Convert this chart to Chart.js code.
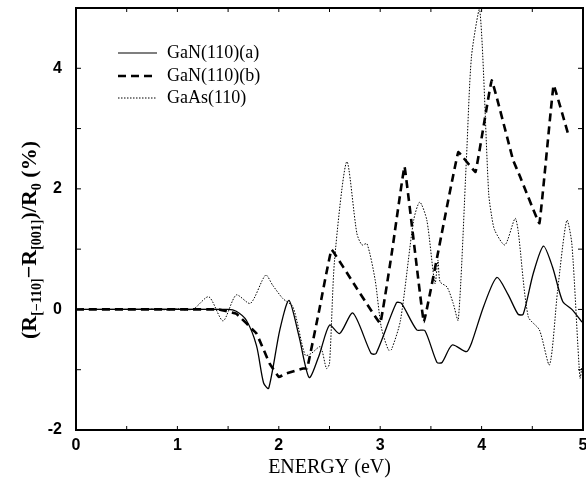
<!DOCTYPE html>
<html>
<head>
<meta charset="utf-8">
<script src="https://cdn.jsdelivr.net/npm/chart.js"></script>
<style>
  html, body { margin: 0; padding: 0; background: #fff; }
  #wrap { width: 586px; height: 480px; }
</style>
</head>
<body>
<div id="wrap"><canvas id="chart" width="586" height="480"></canvas></div>
<script>
// series labels
const seriesNames = ['GaN(110)(a)', 'GaN(110)(b)', 'GaAs(110)'];

// GaN(110)(a), solid
const energyA = [0, 1.5, 1.58, 1.68, 1.78, 1.85, 1.90, 2.01, 2.10, 2.20, 2.30, 2.40, 2.50, 2.60, 2.73, 2.91, 2.96, 3.16, 3.21, 3.36, 3.44, 3.56, 3.61, 3.71, 3.85, 3.90, 4.02, 4.15, 4.26, 4.36, 4.41, 4.51, 4.61, 4.70, 4.80, 4.89, 4.99];
const valuesA = [0, 0, -0.03, -0.18, -0.6, -1.22, -1.31, -0.34, 0.15, -0.45, -1.13, -0.75, -0.26, -0.40, -0.06, -0.73, -0.73, 0.11, 0.10, -0.34, -0.35, -0.88, -0.88, -0.59, -0.70, -0.56, 0.05, 0.53, 0.25, -0.08, -0.08, 0.60, 1.05, 0.70, 0.13, 0.0, -0.21];

// GaN(110)(b), dashed
const energyB = [0, 1.4, 1.58, 1.78, 1.91, 2.0, 2.08, 2.24, 2.28, 2.40, 2.52, 2.75, 3.0, 3.12, 3.24, 3.43, 3.60, 3.77, 3.94, 4.10, 4.31, 4.38, 4.57, 4.71, 4.86];
const valuesB = [0, 0, -0.07, -0.40, -0.90, -1.12, -1.06, -0.98, -0.98, 0.0, 0.99, 0.40, -0.23, 1.0, 2.37, -0.21, 1.2, 2.61, 2.28, 3.80, 2.48, 2.20, 1.43, 3.72, 2.87];

// GaAs(110), dotted
const energyC = [0, 0.7, 0.8, 0.9, 1.0, 1.1, 1.17, 1.31, 1.45, 1.58, 1.72, 1.87, 1.94, 2.04, 2.14, 2.26, 2.32, 2.41, 2.47, 2.50, 2.55, 2.67, 2.77, 2.82, 2.87, 2.95, 3.01, 3.08, 3.11, 3.20, 3.33, 3.39, 3.46, 3.54, 3.57, 3.59, 3.66, 3.72, 3.77, 3.85, 3.90, 3.98, 4.07, 4.10, 4.13, 4.23, 4.33, 4.36, 4.46, 4.57, 4.67, 4.75, 4.84, 4.89, 4.97, 4.99];
const valuesC = [0, 0, 0.01, -0.01, 0.01, -0.01, 0.02, 0.21, -0.19, 0.24, 0.10, 0.57, 0.40, 0.18, 0.04, -0.76, -0.73, -0.62, -0.98, -0.90, 0.82, 2.45, 1.26, 1.07, 1.09, 0.49, -0.29, -0.67, -0.67, -0.18, 1.48, 1.78, 1.48, 0.43, 0.82, 0.46, 0.37, 0.10, -0.18, 2.48, 4.19, 5.0, 1.92, 1.54, 1.31, 1.07, 1.51, 1.31, -0.12, -0.34, -0.92, 0.32, 1.48, 1.09, -1.14, -0.95];

const xTicks = [0, 1, 2, 3, 4, 5];
const yTickLabels = [-2, 0, 2, 4];

function pts(xs, ys) {
  return xs.map((x, i) => ({ x: x, y: ys[i] }));
}

const serif = '"Liberation Serif", "Times New Roman", serif';
const sans = '"Liberation Sans", Arial, sans-serif';

const framePlugin = {
  id: 'frame',
  afterDraw(chart) {
    const ctx = chart.ctx;
    const a = chart.chartArea;
    const xs = chart.scales.x, ys = chart.scales.y;
    ctx.save();
    // minor/major ticks, inward on all sides
    ctx.strokeStyle = '#000';
    ctx.lineWidth = 1;
    for (let v = 0.5; v < 5; v += 0.5) {
      const px = xs.getPixelForValue(v);
      ctx.beginPath();
      ctx.moveTo(px, a.bottom); ctx.lineTo(px, a.bottom - 4);
      ctx.moveTo(px, a.top); ctx.lineTo(px, a.top + 4);
      ctx.stroke();
    }
    for (let v = -1; v < 5; v += 1) {
      const py = ys.getPixelForValue(v);
      ctx.beginPath();
      ctx.moveTo(a.left, py); ctx.lineTo(a.left + 5, py);
      ctx.moveTo(a.right, py); ctx.lineTo(a.right - 5, py);
      ctx.stroke();
    }
    // frame
    ctx.lineWidth = 2;
    ctx.strokeRect(a.left, a.top, a.right - a.left, a.bottom - a.top);

    // legend
    const styles = [
      { w: 1.2, dash: [] },
      { w: 2.6, dash: [8, 5] },
      { w: 1, dash: [1.5, 1.5] }
    ];
    const rowsY = [53, 76, 98];
    ctx.font = '18px ' + serif;
    ctx.textBaseline = 'middle';
    ctx.fillStyle = '#000';
    seriesNames.forEach((name, i) => {
      ctx.lineWidth = styles[i].w;
      ctx.setLineDash(styles[i].dash);
      ctx.beginPath();
      ctx.moveTo(118, rowsY[i]); ctx.lineTo(157, rowsY[i]);
      ctx.stroke();
      ctx.setLineDash([]);
      ctx.fillText(name, 167, rowsY[i]);
    });

    // x title
    ctx.font = '20px ' + serif;
    ctx.textAlign = 'center';
    ctx.textBaseline = 'alphabetic';
    ctx.fillText('ENERGY (eV)', (a.left + a.right) / 2, 473);

    // y title with subscripts
    const parts = [
      ['(R', false], ['[\u2212110]', true], ['\u2212R', false], ['[001]', true],
      [')/R', false], ['0', true], [' (%)', false]
    ];
    const big = 'bold 22px ' + serif, small = 'bold 14px ' + serif;
    let total = 0;
    parts.forEach(p => { ctx.font = p[1] ? small : big; total += ctx.measureText(p[0]).width; });
    ctx.translate(36, 240);
    ctx.rotate(-Math.PI / 2);
    ctx.textAlign = 'left';
    let cx = -total / 2;
    parts.forEach(p => {
      ctx.font = p[1] ? small : big;
      ctx.fillText(p[0], cx, p[1] ? 5 : 0);
      cx += ctx.measureText(p[0]).width;
    });
    ctx.restore();
  }
};

new Chart(document.getElementById('chart'), {
  type: 'line',
  data: {
    datasets: [
      { label: seriesNames[0], data: pts(energyA, valuesA), borderColor: '#000', borderWidth: 1.3, tension: 0.25 },
      { label: seriesNames[1], data: pts(energyB, valuesB), borderColor: '#000', borderWidth: 2.6, borderDash: [8, 5], tension: 0.05 },
      { label: seriesNames[2], data: pts(energyC, valuesC), borderColor: '#000', borderWidth: 1, borderDash: [1.5, 1.5], tension: 0.25 }
    ]
  },
  options: {
    responsive: false,
    animation: false,
    events: [],
    layout: { padding: { top: 8, right: 3, left: 0, bottom: 0 } },
    elements: { point: { radius: 0 } },
    plugins: { legend: { display: false }, tooltip: { enabled: false } },
    scales: {
      x: {
        type: 'linear', min: 0, max: 5,
        afterFit: s => { s.height = 50; s.paddingLeft = 0; s.paddingRight = 0; },
        afterBuildTicks: s => { s.ticks = xTicks.map(v => ({ value: v })); },
        grid: { display: false, drawTicks: false },
        border: { display: false },
        ticks: { color: '#000', font: { family: sans, size: 16, weight: 'bold' }, padding: 6, maxRotation: 0 }
      },
      y: {
        type: 'linear', min: -2, max: 5,
        afterFit: s => { s.width = 76; s.paddingTop = 0; s.paddingBottom = 0; },
        afterBuildTicks: s => { s.ticks = yTickLabels.map(v => ({ value: v })); },
        grid: { display: false, drawTicks: false },
        border: { display: false },
        ticks: { color: '#000', font: { family: sans, size: 16, weight: 'bold' }, padding: 14 }
      }
    }
  },
  plugins: [framePlugin]
});
</script>
</body>
</html>
